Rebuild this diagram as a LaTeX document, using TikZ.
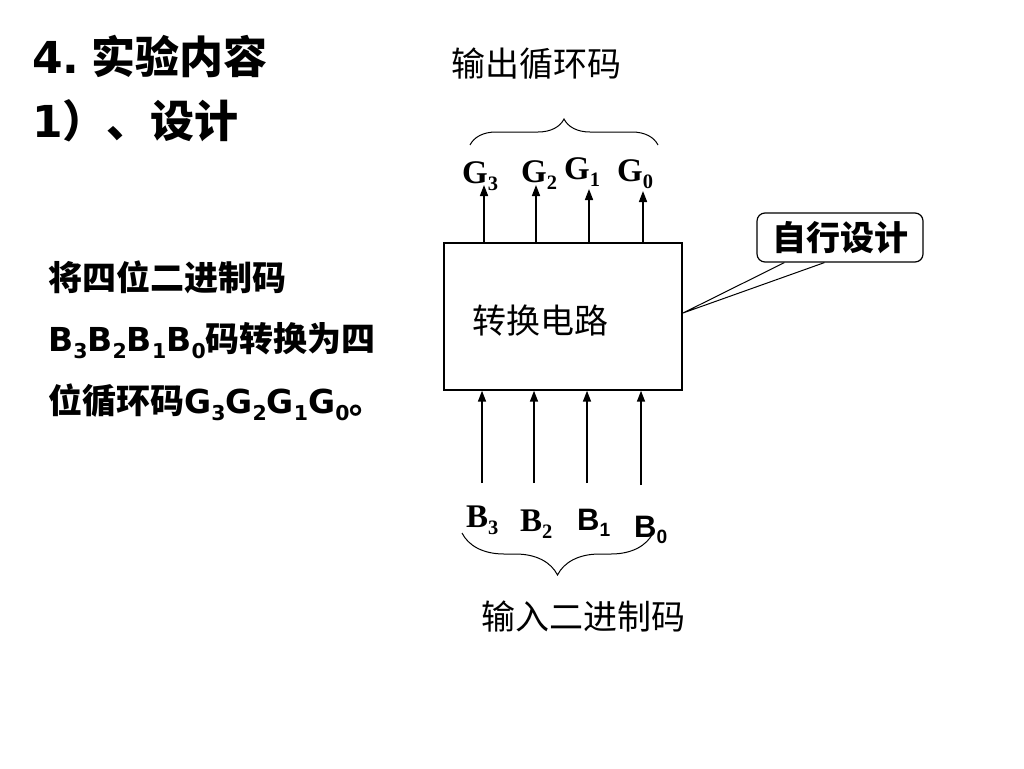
\documentclass[tikz,border=0pt]{standalone}
\usepackage{fontspec}
\setmainfont{Liberation Serif}
\newfontfamily\hei{Noto Sans CJK SC}
\newfontfamily\verd{DejaVu Sans}
\newfontfamily\arial{Liberation Sans}
\usetikzlibrary{arrows.meta,decorations.pathreplacing,calc,positioning}
\newcommand\lo[1]{\raisebox{-0.22em}{\scalebox{0.62}{#1}}}
\newcommand\fs[1]{\fontsize{#1}{#1}\selectfont}

\begin{document}
\begin{tikzpicture}[x=1pt,y=-1pt,
    txt/.style={inner sep=0pt,anchor=base west},
    sig/.style={-{Triangle[length=11pt,width=8pt]},line width=1.6pt},
    brace/.style={decorate,decoration={brace,amplitude=#1},line width=1pt}]
   \useasboundingbox (0,0) rectangle (1024,768);
   % left text
   \node[txt] (title) at (32,74) {\fs{44}{\verd\bfseries 4.}\hspace{12pt}{\hei\bfseries 实验内容}};
   \node[txt] (step) at (32,137) {\fs{44}{\verd\bfseries 1}{\hei\bfseries ）、设计}};
   \node[txt] (l1) at (48,290) {\fs{34}\hei\bfseries 将四位二进制码};
   \node[txt] (l2) at (48,351) {{\fs{33}\verd\bfseries B\lo{3}B\lo{2}B\lo{1}B\lo{0}}{\fs{34}\hei\bfseries 码转换为四}};
   \node[txt] (l3) at (48,413) {{\fs{34}\hei\bfseries 位循环码}{\fs{33}\verd\bfseries G\lo{3}G\lo{2}G\lo{1}G\lo{0}}{\fs{34}\hei\bfseries 。}};
   % circuit
   \node[draw,line width=1.4pt,minimum width=238pt,minimum height=147pt,inner sep=0pt] (conv) at (563,316.5) {};
   \node[txt] (convname) at (472,333) {\fs{34}\hei 转换电路};
   \node[txt] (outname) at (451,77) {\fs{34}\hei 输出循环码};
   \node[txt] (inname) at (481,629) {\fs{34}\hei 输入二进制码};
   \node[txt] (g3) at (462,183) {\fs{33}\bfseries G\lo{3}};
   \node[txt] (g2) at (521,182) {\fs{33}\bfseries G\lo{2}};
   \node[txt] (g1) at (564,179) {\fs{33}\bfseries G\lo{1}};
   \node[txt] (g0) at (617,181) {\fs{33}\bfseries G\lo{0}};
   \node[txt] (b3) at (466,527) {\fs{33}\bfseries B\lo{3}};
   \node[txt] (b2) at (520,531) {\fs{33}\bfseries B\lo{2}};
   \node[txt] (b1) at (577,530) {\fs{31}\arial\bfseries B\lo{1}};
   \node[txt] (b0) at (634,537) {\fs{31}\arial\bfseries B\lo{0}};
   \coordinate (gt3) at (484,185);
   \coordinate (gt2) at (536,185);
   \coordinate (gt1) at (589,189);
   \coordinate (gt0) at (643,191);
   \coordinate (bt3) at (482,483);
   \coordinate (bt2) at (534,483);
   \coordinate (bt1) at (587,483);
   \coordinate (bt0) at (641,485);
   \draw[sig] (gt3 |- conv.north) -- (gt3);
   \draw[sig] (gt2 |- conv.north) -- (gt2);
   \draw[sig] (gt1 |- conv.north) -- (gt1);
   \draw[sig] (gt0 |- conv.north) -- (gt0);
   \draw[sig] (bt3) -- (bt3 |- conv.south);
   \draw[sig] (bt2) -- (bt2 |- conv.south);
   \draw[sig] (bt1) -- (bt1 |- conv.south);
   \draw[sig] (bt0) -- (bt0 |- conv.south);
   \draw[brace=26pt] (470,145) -- (658,145);
   \draw[brace=42pt] (653,533) -- (462,533);
   % callout
   \node[draw,rounded corners=8pt,line width=1.2pt,minimum width=166pt,minimum height=49pt,inner sep=0pt] (note) at (840,237.5) {\fs{34}\hei\bfseries 自行设计};
   \coordinate (tip) at (683,313);
   \draw[line width=1pt] ($(note.south west)+(28,0)$) -- (tip) -- ($(note.south west)+(68,0)$);
\end{tikzpicture}
\end{document}
